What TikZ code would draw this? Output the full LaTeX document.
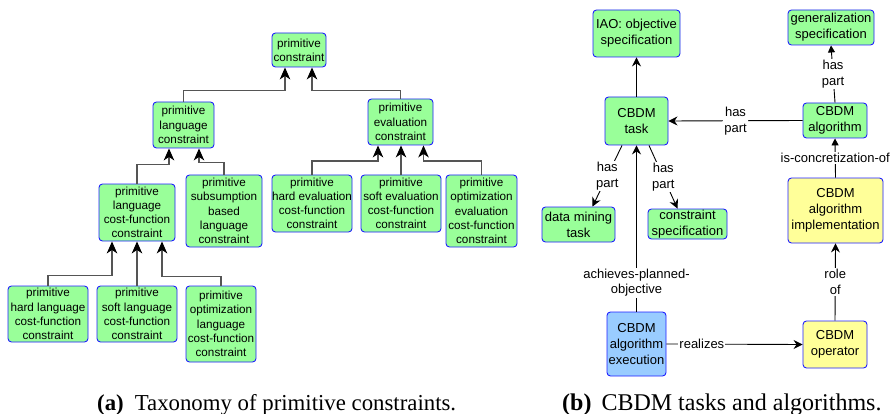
\documentclass[tikz,border=0pt]{standalone}
\usepackage{fontspec}
\setmainfont{Liberation Sans}
\newfontfamily\capfont{Liberation Serif}
\usetikzlibrary{arrows.meta,calc}
\definecolor{boxgreen}{RGB}{153,255,153}
\definecolor{boxblue}{RGB}{30,30,255}
\definecolor{boxyellow}{RGB}{255,255,153}
\definecolor{boxlblue}{RGB}{153,204,255}
\definecolor{linegray}{RGB}{85,85,85}
\tikzset{
  box/.style={draw=boxblue, line width=0.9pt, rounded corners=3.5pt, align=center, inner sep=0pt},
  lbox/.style={box, fill=boxgreen, font=\fontsize{11.7}{14.2}\selectfont},
  rbox/.style={box, font=\fontsize{13}{15.8}\selectfont},
  gbox/.style={rbox, fill=boxgreen},
  ybox/.style={rbox, fill=boxyellow},
  bbox/.style={rbox, fill=boxlblue},
  larr/.style={draw=linegray, line width=1.2pt, -{Stealth[length=12pt,width=10.5pt,inset=3.5pt,color=black]}},
  rarr/.style={draw=black, line width=0.9pt, -{Stealth[length=9pt,width=9pt,inset=3pt]}},
  tarr/.style={draw=black, line width=0.9pt, -{Triangle[length=7pt,width=7pt]}},
  elabel/.style={fill=white, inner sep=1pt, align=center, font=\fontsize{13}{15.8}\selectfont},
  captext/.style={inner sep=0pt, anchor=base west}
}
\begin{document}
\begin{tikzpicture}[x=1pt,y=-1pt]
\useasboundingbox (0,0) rectangle (893,414);

% ---------- (a) taxonomy ----------
\node[lbox, minimum width=54pt, minimum height=34pt] (pc) at (299,50) {primitive\\constraint};
\node[lbox, minimum width=61pt, minimum height=46pt] (plc) at (183.5,125) {primitive\\language\\constraint};
\node[lbox, minimum width=65pt, minimum height=46pt] (pec) at (400.5,122) {primitive\\evaluation\\constraint};
\node[lbox, minimum width=76pt, minimum height=57pt] (plcf) at (137,212.5) {primitive\\language\\cost-function\\constraint};
\node[lbox, minimum width=76pt, minimum height=72pt] (psub) at (224,211) {primitive\\subsumption\\based\\language\\constraint};
\node[lbox, minimum width=80pt, minimum height=57pt] (phe) at (312,203.5) {primitive\\hard evaluation\\cost-function\\constraint};
\node[lbox, minimum width=80pt, minimum height=57pt] (pse) at (401,203.5) {primitive\\soft evaluation\\cost-function\\constraint};
\node[lbox, minimum width=71pt, minimum height=72pt] (poe) at (481.5,211) {primitive\\optimization\\evaluation\\cost-function\\constraint};
\node[lbox, minimum width=80pt, minimum height=56pt] (phl) at (48,314) {primitive\\hard language\\cost-function\\constraint};
\node[lbox, minimum width=80pt, minimum height=56pt] (psl) at (137,314) {primitive\\soft language\\cost-function\\constraint};
\node[lbox, minimum width=70pt, minimum height=76pt] (pol) at (221,324) {primitive\\optimization\\language\\cost-function\\constraint};

\draw[larr] (plc.north) -- ++(0,-11) -| ([xshift=-14pt]pc.south);
\draw[larr] (pec.north) -- ++(0,-8) -| ([xshift=13pt]pc.south);
\draw[larr] (plcf.north) -- ++(0,-19) -| ([xshift=-14.5pt]plc.south);
\draw[larr] (psub.north) -- ++(0,-12) -| ([xshift=15.5pt]plc.south);
\draw[larr] (phe.north) -- ++(0,-13.5) -| ([xshift=-22.5pt]pec.south);
\draw[larr] (pse.north) -- (pse.north |- pec.south);
\draw[larr] (poe.north) -- ++(0,-13.5) -| ([xshift=23pt]pec.south);
\draw[larr] (phl.north) -- ++(0,-10) -| ([xshift=-25pt]plcf.south);
\draw[larr] (psl.north) -- (psl.north |- plcf.south);
\draw[larr] (pol.north) -- ++(0,-9) -| ([xshift=25pt]plcf.south);

% ---------- (b) CBDM ----------
\node[gbox, minimum width=87pt, minimum height=47pt] (iao) at (636.5,33.5) {IAO: objective\\specification};
\node[gbox, minimum width=86pt, minimum height=35pt] (gen) at (831,27.5) {generalization\\specification};
\node[gbox, minimum width=63pt, minimum height=48pt] (task) at (636.5,121) {CBDM\\task};
\node[gbox, minimum width=64pt, minimum height=35pt] (alg) at (835,120.5) {CBDM\\algorithm};
\node[gbox, minimum width=73pt, minimum height=35pt] (dm) at (578.5,224.5) {data mining\\task};
\node[gbox, minimum width=79pt, minimum height=30pt] (cs) at (687.5,224) {constraint\\specification};
\node[ybox, minimum width=95pt, minimum height=65pt] (impl) at (835.5,210.5) {CBDM\\algorithm\\implementation};
\node[bbox, minimum width=59pt, minimum height=64pt] (exec) at (636.5,344) {CBDM\\algorithm\\execution};
\node[ybox, minimum width=64pt, minimum height=47pt] (op) at (835,344.5) {CBDM\\operator};

\draw[rarr] (task.north) -- (iao.south);
\draw[tarr] (alg.north) -- node[elabel] {has\\part} (gen.south);
\draw[rarr] (alg.west) -- node[elabel] {has\\part} (task.east);
\draw[tarr] (impl.north) -- node[elabel] {is-concretization-of} (alg.south);
\draw[rarr] (op.north) -- node[elabel] {role\\of} (impl.south);
\draw[rarr] (exec.north) -- node[elabel, pos=0.174] {achieves-planned-\\objective} (task.south);
\draw[rarr] (exec.east) -- node[elabel, pos=0.26] {realizes} (op.west);
\draw[rarr] ([xshift=-14.5pt]task.south) -- node[elabel] {has\\part} ([xshift=14pt]dm.north);
\draw[rarr] ([xshift=12.5pt]task.south) -- node[elabel] {has\\part} ([xshift=-10pt]cs.north);

% ---------- captions ----------
\node[captext, font=\capfont\fontsize{22.8}{26}\selectfont] (capa) at (97,410.5) {\textbf{(a)}\hspace{11pt}Taxonomy of primitive constraints.};
\node[captext, font=\capfont\fontsize{24}{26}\selectfont] (capb) at (562,410.5) {\textbf{(b)}\hspace{10pt}CBDM tasks and algorithms.};
\end{tikzpicture}
\end{document}
